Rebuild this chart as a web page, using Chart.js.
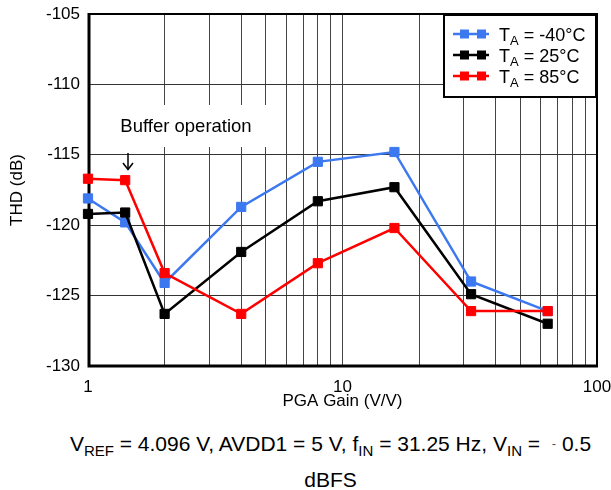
<!DOCTYPE html>
<html><head><meta charset="utf-8">
<script src="https://cdn.jsdelivr.net/npm/chart.js@4/dist/chart.umd.min.js"></script>
<style>
html,body{margin:0;padding:0;background:#fff;overflow:hidden;width:611px;height:490px;}
#wrap{position:relative;width:611px;height:490px;}
#c{position:absolute;left:0;top:0;}
#cap{position:absolute;left:50px;width:561px;top:427px;text-align:center;font-family:"Liberation Sans",Arial,sans-serif;font-size:21px;line-height:33px;color:#000;white-space:nowrap;}
.sb{font-size:15px;position:relative;top:5px;}
</style></head><body>
<div id="wrap"><canvas id="c" width="611" height="420"></canvas>
<div id="cap">V<span class="sb">REF</span> = 4.096 V, AVDD1 = 5 V, f<span class="sb">IN</span> = 31.25 Hz, V<span class="sb">IN</span> = &nbsp;<span style="font-size:13px;position:relative;top:-3px;color:#555">&#8209;</span> 0.5<br>dBFS</div></div>
<script>
const gains = [1, 1.4, 2, 4, 8, 16, 32, 64];
const thdMinus40 = [-118.1, -119.8, -124.1, -118.7, -115.5, -114.8, -124.0, -126.1];
const thd25 = [-119.2, -119.1, -126.3, -121.9, -118.3, -117.3, -124.9, -127.0];
const thd85 = [-116.7, -116.8, -123.4, -126.3, -122.7, -120.2, -126.1, -126.1];
const seriesTemps = ['-40\u00B0C', '25\u00B0C', '85\u00B0C'];
const seriesColors = ['#3C78F0', '#000000', '#FF0000'];
const xTickValues = [1,2,3,4,5,6,7,8,9,10,20,30,40,50,60,70,80,90,100];
const xTickLabels = {1:'1', 10:'10', 100:'100'};
const yTickValues = [-130,-125,-120,-115,-110,-105];

const FONT = '"Liberation Sans", Arial, sans-serif';
function pts(ys){ return gains.map((g,i)=>({x:g, y:ys[i]})); }
function ds(label, ys, color, order){
  return {label, data: pts(ys), borderColor: color, backgroundColor: color,
    borderWidth: 2.5, pointStyle: 'rect', pointRadius: 6.5, pointHoverRadius: 6.5,
    pointBorderWidth: 1, pointBorderColor: color, pointBackgroundColor: color,
    tension: 0, clip: false, order};
}

const deco = {
  id: 'deco',
  beforeDatasetsDraw(chart){
    const ctx = chart.ctx, a = chart.chartArea;
    ctx.save();
    ctx.fillStyle = '#fff';
    ctx.fillRect(a.left + 1, 105, 194, 42);
    ctx.fillStyle = '#000';
    ctx.font = '18.5px ' + FONT;
    ctx.textAlign = 'center'; ctx.textBaseline = 'middle';
    ctx.fillText('Buffer operation', 186, 127);
    ctx.strokeStyle = '#000'; ctx.lineWidth = 1.5;
    ctx.beginPath(); ctx.moveTo(128, 153); ctx.lineTo(128, 169); ctx.stroke();
    ctx.beginPath(); ctx.moveTo(123, 163); ctx.lineTo(128, 169.5); ctx.lineTo(133, 163); ctx.stroke();
    ctx.lineWidth = 2;
    ctx.beginPath(); ctx.moveTo(a.left, a.top); ctx.lineTo(a.right, a.top); ctx.lineTo(a.right, a.bottom); ctx.stroke();
    ctx.lineWidth = 3;
    ctx.beginPath(); ctx.moveTo(a.left + 1, a.top - 1); ctx.lineTo(a.left + 1, a.bottom); ctx.lineTo(a.right + 1, a.bottom); ctx.stroke();
    ctx.restore();
  },
  afterDraw(chart){
    const ctx = chart.ctx;
    ctx.save();
    const bx = 443, by = 14, bw = 154, bh = 84;
    ctx.fillStyle = '#fff'; ctx.fillRect(bx, by, bw, bh);
    ctx.strokeStyle = '#000'; ctx.lineWidth = 2;
    ctx.strokeRect(bx + 1, by + 1, bw - 2, bh - 2);
    const rows = [34, 55, 76];
    seriesTemps.forEach((t, i) => {
      const y = rows[i], c = seriesColors[i];
      ctx.strokeStyle = c; ctx.lineWidth = 2.5;
      ctx.beginPath(); ctx.moveTo(453, y); ctx.lineTo(489, y); ctx.stroke();
      ctx.fillStyle = c;
      ctx.fillRect(460, y - 4.5, 9, 9);
      ctx.fillRect(477, y - 4.5, 9, 9);
      ctx.fillStyle = '#000';
      ctx.textAlign = 'left'; ctx.textBaseline = 'alphabetic';
      let x = 499;
      const base = y + 6.5;
      ctx.font = '18px ' + FONT;
      ctx.fillText('T', x, base); x += ctx.measureText('T').width;
      ctx.font = '13px ' + FONT;
      ctx.fillText('A', x, base + 4); x += ctx.measureText('A').width;
      ctx.font = '18px ' + FONT;
      ctx.fillText(' = ' + t, x, base);
    });
    ctx.restore();
  }
};

new Chart(document.getElementById('c'), {
  type: 'line',
  data: { datasets: [
    ds('TA = -40\u00B0C', thdMinus40, seriesColors[0], 3),
    ds('TA = 25\u00B0C', thd25, seriesColors[1], 2),
    ds('TA = 85\u00B0C', thd85, seriesColors[2], 1)
  ]},
  options: {
    responsive: false, animation: false,
    layout: { padding: { top: 14, right: 14, left: 0, bottom: 0 } },
    plugins: { legend: { display: false }, tooltip: { enabled: false } },
    scales: {
      x: {
        type: 'logarithmic', min: 1, max: 100,
        afterBuildTicks: s => { s.ticks = xTickValues.map(v => ({ value: v })); },
        afterFit: s => { s.height = 54; s.paddingLeft = 0; s.paddingRight = 0; },
        grid: { color: '#444', lineWidth: 1, drawTicks: false },
        border: { display: false },
        ticks: { autoSkip: false, maxRotation: 0, padding: 11, color: '#000',
          font: { family: FONT, size: 17 },
          callback: v => xTickLabels[v] || '' },
        title: { display: true, text: 'PGA Gain (V/V)', color: '#000',
          font: { family: FONT, size: 17 }, padding: { top: 0, bottom: 8 } }
      },
      y: {
        min: -130, max: -105,
        afterBuildTicks: s => { s.ticks = yTickValues.map(v => ({ value: v })); },
        afterFit: s => { s.width = 88; s.paddingTop = 0; s.paddingBottom = 0; },
        grid: { color: '#333', lineWidth: 1, drawTicks: false },
        border: { display: false },
        ticks: { padding: 8, color: '#000', font: { family: FONT, size: 17 },
          callback: v => String(v) },
        title: { display: true, text: 'THD (dB)', color: '#000',
          font: { family: FONT, size: 17 }, padding: { top: 7, bottom: 0 } }
      }
    }
  },
  plugins: [deco]
});
</script>
</body></html>
